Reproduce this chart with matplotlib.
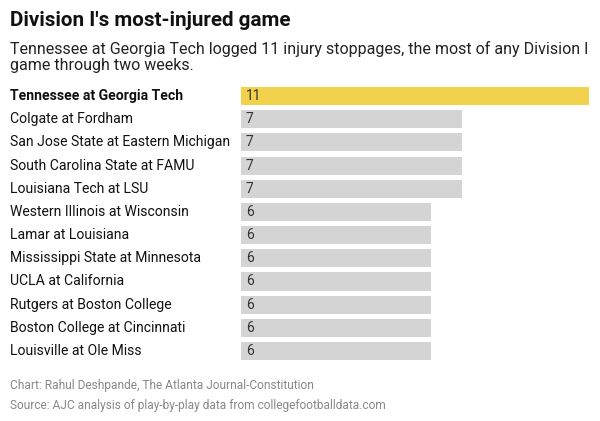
import matplotlib
matplotlib.use("Agg")
import matplotlib.pyplot as plt

games = ["Tennessee at Georgia Tech", "Colgate at Fordham", "San Jose State at Eastern Michigan",
         "South Carolina State at FAMU", "Louisiana Tech at LSU", "Western Illinois at Wisconsin",
         "Lamar at Louisiana", "Mississippi State at Minnesota", "UCLA at California",
         "Rutgers at Boston College", "Boston College at Cincinnati", "Louisville at Ole Miss"]
stoppages = [11, 7, 7, 7, 7, 6, 6, 6, 6, 6, 6, 6]

plt.rcParams['font.family'] = ['Roboto', 'DejaVu Sans']

fig = plt.figure(figsize=(6, 4.21), dpi=100)
fig.patch.set_facecolor('white')
ax = fig.add_axes([0.4017, 0.1387, 0.58, 0.6608])

colors = ['#F2D24C' if i == 0 else '#D4D4D4' for i in range(len(games))]
ypos = list(range(len(games)))
ax.barh(ypos, stoppages, height=0.78, color=colors)
ax.set_xlim(0, 11)
ax.set_ylim(len(games) - 0.5, -0.5)
ax.axis('off')

for i, (g, v) in enumerate(zip(games, stoppages)):
    ax.text(0.15, i, str(v), va='center', ha='left', fontsize=10, color='#333333')
    ax.annotate(g, xy=(0, i), xycoords=('figure fraction', 'data'),
                xytext=(10, 0), textcoords='offset pixels', va='center', ha='left',
                fontsize=10.1, color='#111111', fontweight='bold' if i == 0 else 'normal')

fig.text(10/600, 1 - 20/421, "Division I's most-injured game", fontsize=14.9, fontweight='bold',
         va='center', ha='left', color='#111111')
fig.text(10/600, 1 - 57/421,
         "Tennessee at Georgia Tech logged 11 injury stoppages, the most of any Division I\ngame through two weeks.",
         fontsize=11.5, va='center', ha='left', color='#222222', linespacing=1.1)
fig.text(10/600, 1 - 386/421, "Chart: Rahul Deshpande, The Atlanta Journal-Constitution",
         fontsize=8.55, va='center', ha='left', color='#888888')
fig.text(10/600, 1 - 405/421, "Source: AJC analysis of play-by-play data from collegefootballdata.com",
         fontsize=8.55, va='center', ha='left', color='#888888')

fig.savefig('out.png', dpi=100)
